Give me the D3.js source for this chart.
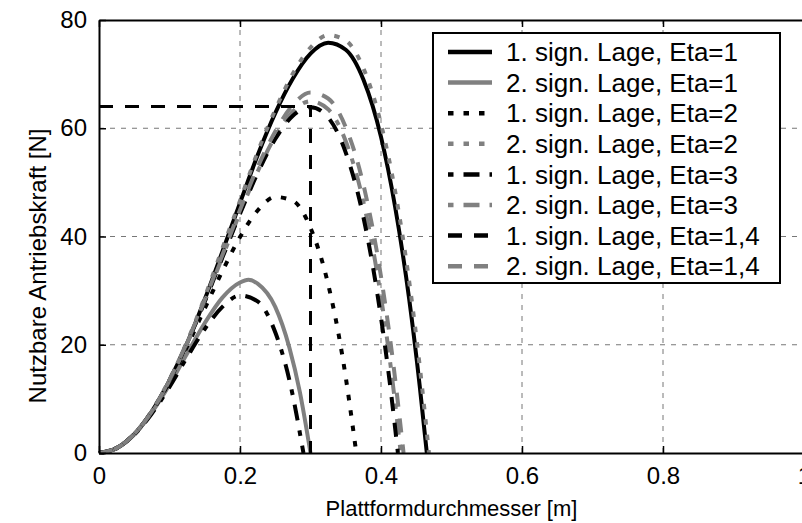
<!DOCTYPE html>
<html lang="de">
<head>
  <meta charset="UTF-8">
  <title>Nutzbare Antriebskraft</title>
  <script src="https://d3js.org/d3.v7.min.js"></script>
  <style>
    body { margin: 0; background: #fff; }
    svg { display: block; font-family: "Liberation Sans", Arial, Helvetica, sans-serif; }
    .grid line { stroke: #777; stroke-width: 1; stroke-dasharray: 5,6; }
    .curve { fill: none; }
  </style>
</head>
<body>
  <svg width="802" height="523"></svg>

  <script>
    // tick values
    const xTicks = [0, 0.2, 0.4, 0.6, 0.8, 1];
    const yTicks = [0, 20, 40, 60, 80];

    // curves: [Plattformdurchmesser m, Kraft N]
    const lage1Eta1 = [[0,0],[0.025,0.9],[0.05,3.5],[0.075,7.7],[0.1,13.4],[0.125,20.3],[0.15,28.4],[0.175,37.2],
      [0.2,46.2],[0.225,55],[0.25,62.8],[0.275,69.2],[0.3,73.8],[0.325,75.8],[0.35,74.5],[0.375,69],
      [0.4,58.4],[0.42,45.5],[0.44,28.4],[0.455,12.3],[0.465,0]];
    const lage2Eta1 = [[0,0],[0.025,0.9],[0.05,3.4],[0.075,7.5],[0.1,12.6],[0.125,18.4],[0.15,24],[0.175,28.7],
      [0.2,31.5],[0.212,32],[0.225,31.3],[0.25,27],[0.27,19.5],[0.285,11.2],[0.3,0]];
    const lage1Eta2 = [[0,0],[0.025,0.9],[0.05,3.5],[0.075,7.6],[0.1,13.2],[0.125,19.7],[0.15,26.7],[0.175,33.6],
      [0.2,39.9],[0.225,44.8],[0.25,47.3],[0.275,46.6],[0.3,41.6],[0.325,31.2],[0.345,18.1],[0.365,0]];
    const lage2Eta2 = [[0,0],[0.025,0.9],[0.05,3.5],[0.075,7.8],[0.1,13.6],[0.125,20.6],[0.15,28.8],[0.175,37.8],
      [0.2,46.6],[0.225,55.6],[0.25,63.4],[0.275,70.1],[0.3,74.9],[0.325,77.2],[0.35,76.2],[0.375,71.1],
      [0.4,60.8],[0.42,48.4],[0.44,31.7],[0.455,16],[0.468,0]];
    const lage1Eta3 = [[0,0],[0.025,0.9],[0.05,3.4],[0.075,7.3],[0.1,12.2],[0.125,17.7],[0.15,22.9],[0.175,27],
      [0.2,29.1],[0.225,28],[0.25,22.3],[0.27,13.5],[0.29,0]];
    const lage2Eta3 = [[0,0],[0.025,0.9],[0.05,3.5],[0.075,7.7],[0.1,13.4],[0.125,20.3],[0.15,28],[0.175,36.2],
      [0.2,44.4],[0.225,52],[0.25,58.5],[0.275,63.1],[0.3,65],[0.325,63.5],[0.35,57.6],[0.375,46.4],
      [0.4,28.8],[0.415,14.7],[0.428,0]];
    const lage1Eta14 = [[0,0],[0.025,0.9],[0.05,3.5],[0.075,7.7],[0.1,13.4],[0.125,20.3],[0.15,28],[0.175,36.1],
      [0.2,44.2],[0.225,51.7],[0.25,58],[0.275,62.3],[0.3,63.9],[0.325,62],[0.35,55.5],[0.375,43.6],
      [0.4,25],[0.412,13.5],[0.424,0]];
    const lage2Eta14 = [[0,0],[0.025,0.9],[0.05,3.5],[0.075,7.7],[0.1,13.5],[0.125,20.5],[0.15,28.3],[0.175,36.6],
      [0.2,44.9],[0.225,52.8],[0.25,59.4],[0.275,64.3],[0.3,66.6],[0.325,65.5],[0.35,60.2],[0.375,49.6],
      [0.4,32.6],[0.415,19],[0.432,0]];
    // optimum marker for Eta=1,4
    const optimumLine = [[0,64],[0.3,64],[0.3,0]];

    const labels = ["1. sign. Lage, Eta=1", "2. sign. Lage, Eta=1", "1. sign. Lage, Eta=2", "2. sign. Lage, Eta=2",
      "1. sign. Lage, Eta=3", "2. sign. Lage, Eta=3", "1. sign. Lage, Eta=1,4", "2. sign. Lage, Eta=1,4"];
    const seriesData = [lage1Eta1, lage2Eta1, lage1Eta2, lage2Eta2, lage1Eta3, lage2Eta3, lage1Eta14, lage2Eta14];

    const black = "#000", grey = "#808080";
    const colors = [black, grey, black, grey, black, grey, black, grey];
    const dashes = [null, null, "5.5,10", "5.5,10", "5.5,10,16,10", "5.5,10,16,10", "14,12", "14,12"];

    const svg = d3.select("svg");
    const margin = { top: 20, left: 99 };
    const plotW = 705, plotH = 433;

    const x = d3.scaleLinear().domain([0, 1]).range([margin.left, margin.left + plotW]);
    const y = d3.scaleLinear().domain([0, 80]).range([margin.top + plotH, margin.top]);

    // grid
    const grid = svg.append("g").attr("class", "grid");
    grid.selectAll(".gx").data(xTicks.slice(1, -1)).enter().append("line")
      .attr("x1", d => x(d)).attr("x2", d => x(d))
      .attr("y1", y(0)).attr("y2", y(80));
    grid.selectAll(".gy").data(yTicks.slice(1, -1)).enter().append("line")
      .attr("x1", x(0)).attr("x2", x(1))
      .attr("y1", d => y(d)).attr("y2", d => y(d));

    // curves
    const line = d3.line().x(d => x(d[0])).y(d => y(d[1])).curve(d3.curveMonotoneX);
    svg.selectAll(".curve").data(seriesData).enter().append("path")
      .attr("class", "curve")
      .attr("d", line)
      .attr("stroke", (d, i) => colors[i])
      .attr("stroke-width", 4)
      .attr("stroke-dasharray", (d, i) => dashes[i]);

    svg.append("path")
      .attr("class", "curve")
      .attr("d", d3.line().x(d => x(d[0])).y(d => y(d[1]))(optimumLine))
      .attr("stroke", black)
      .attr("stroke-width", 3)
      .attr("stroke-dasharray", "14,12");

    // frame + inward ticks
    const xAxis = svg.append("g").attr("transform", `translate(0,${y(0)})`)
      .call(d3.axisBottom(x).tickValues(xTicks).tickFormat(d3.format("")).tickSizeInner(-7).tickSizeOuter(0).tickPadding(14));
    const yAxis = svg.append("g").attr("transform", `translate(${x(0)},0)`)
      .call(d3.axisLeft(y).tickValues(yTicks).tickSizeInner(-7).tickSizeOuter(0).tickPadding(12));
    svg.append("g").attr("transform", `translate(0,${y(80)})`)
      .call(d3.axisTop(x).tickValues(xTicks).tickFormat("").tickSizeInner(-7).tickSizeOuter(0));
    [xAxis, yAxis].forEach(a => {
      a.selectAll("text").attr("font-size", 24).attr("fill", "#000").attr("font-family", null);
    });
    svg.selectAll(".domain").attr("stroke", "#000").attr("stroke-width", 2);
    svg.selectAll(".tick line").attr("stroke", "#000").attr("stroke-width", 1.5);

    // axis titles
    svg.append("text")
      .attr("x", (x(0) + x(1)) / 2).attr("y", 516)
      .attr("text-anchor", "middle").attr("font-size", 22)
      .text("Plattformdurchmesser [m]");
    svg.append("text")
      .attr("transform", "translate(46,266) rotate(-90)")
      .attr("text-anchor", "middle").attr("font-size", 24)
      .text("Nutzbare Antriebskraft [N]");

    // legend
    const legend = svg.append("g");
    legend.append("rect")
      .attr("x", 433).attr("y", 33).attr("width", 347).attr("height", 250)
      .attr("fill", "#fff").attr("stroke", "#000").attr("stroke-width", 2);
    const rows = legend.selectAll(".row").data(labels).enter().append("g")
      .attr("transform", (d, i) => `translate(0,${52 + i * 30.6})`);
    rows.append("line")
      .attr("x1", 448).attr("x2", 492)
      .attr("stroke", (d, i) => colors[i])
      .attr("stroke-width", 4.5)
      .attr("stroke-dasharray", (d, i) => dashes[i]);
    rows.append("text")
      .attr("x", 506).attr("dy", "0.35em")
      .attr("font-size", 26)
      .text(d => d);
  </script>
</body>
</html>
